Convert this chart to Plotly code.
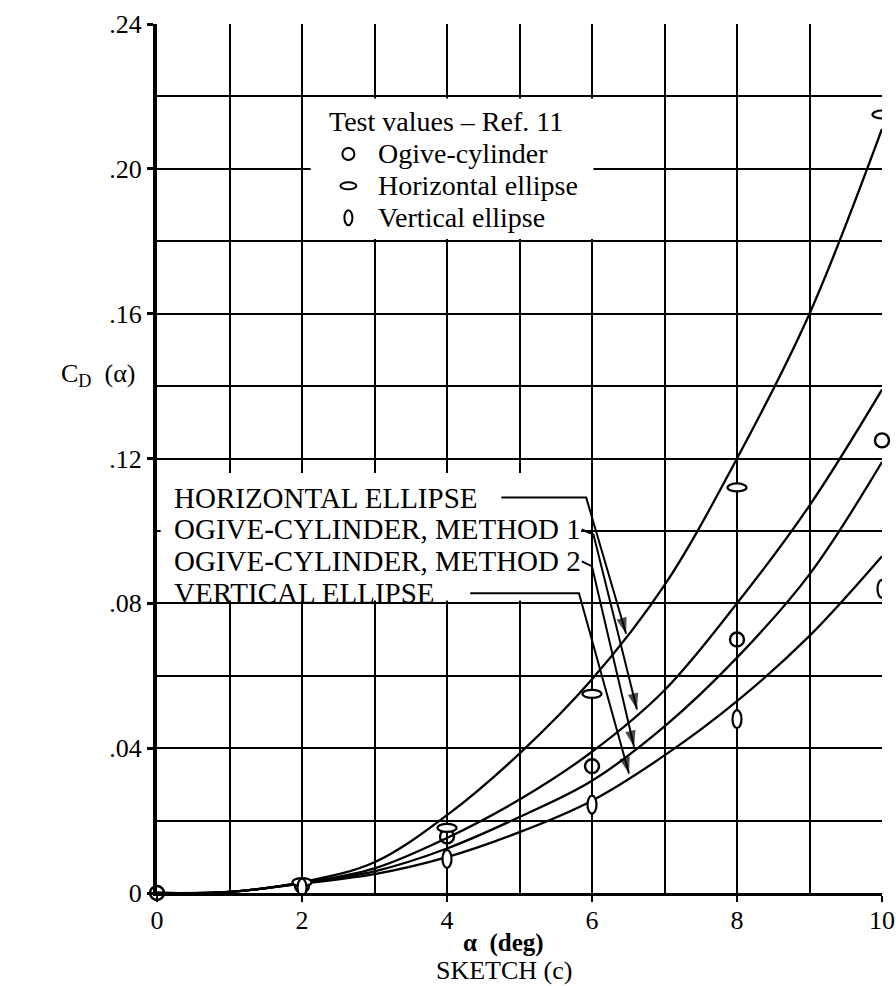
import plotly.graph_objects as go

# ---------------- data ----------------
alpha_deg = [0, 1, 2, 3, 4, 5, 6, 7, 8, 9, 10]
cd_horizontal_ellipse = [0, 0.0003, 0.0030, 0.0085, 0.0215, 0.0385, 0.059, 0.085, 0.120, 0.160, 0.211]
cd_ogive_method1 = [0, 0.0003, 0.0028, 0.0068, 0.0152, 0.0258, 0.039, 0.056, 0.080, 0.107, 0.139]
cd_ogive_method2 = [0, 0.0003, 0.0027, 0.0060, 0.0123, 0.0210, 0.031, 0.046, 0.065, 0.088, 0.119]
cd_vertical_ellipse = [0, 0.0003, 0.0026, 0.0052, 0.0099, 0.0168, 0.0255, 0.038, 0.053, 0.071, 0.093]

test_alpha_ogive = [0, 2, 4, 6, 8, 10]
test_cd_ogive = [0, 0.002, 0.0156, 0.035, 0.070, 0.125]
test_alpha_hell = [2, 4, 6, 8, 10]
test_cd_hell = [0.003, 0.018, 0.055, 0.112, 0.215]
test_alpha_vell = [2, 4, 6, 8, 10]
test_cd_vell = [0.0015, 0.0094, 0.0244, 0.048, 0.084]

x_tick_vals = [0, 2, 4, 6, 8, 10]
x_tick_text = ["0", "2", "4", "6", "8", "10"]
y_tick_vals = [0, 0.04, 0.08, 0.12, 0.16, 0.20, 0.24]
y_tick_text = ["0", ".04", ".08", ".12", ".16", ".20", ".24"]

curve_labels = ["HORIZONTAL ELLIPSE", "OGIVE-CYLINDER, METHOD 1",
                "OGIVE-CYLINDER, METHOD 2", "VERTICAL ELLIPSE"]
legend_title = "Test values \u2013 Ref. 11"
legend_labels = ["Ogive-cylinder", "Horizontal ellipse", "Vertical ellipse"]

FONT = "Liberation Serif"
BLACK = "black"

fig = go.Figure()

curves = [cd_horizontal_ellipse, cd_ogive_method1, cd_ogive_method2, cd_vertical_ellipse]
for name, ys in zip(curve_labels, curves):
    fig.add_trace(go.Scatter(x=alpha_deg, y=ys, mode="lines", name=name,
                             line=dict(color=BLACK, width=2.3, shape="spline", smoothing=1.0),
                             showlegend=False, cliponaxis=False))

fig.add_trace(go.Scatter(x=test_alpha_ogive, y=test_cd_ogive, mode="markers",
                         name="Ogive-cylinder", showlegend=False, cliponaxis=False,
                         marker=dict(symbol="circle-open", size=14, color=BLACK,
                                     line=dict(width=2.4, color=BLACK))))

shapes = []


def ellipse(xv, yv, w, h, lw=2.2):
    return dict(type="circle", xref="x", yref="y", xsizemode="pixel", ysizemode="pixel",
                xanchor=xv, yanchor=yv, x0=-w / 2, x1=w / 2, y0=-h / 2, y1=h / 2,
                line=dict(color=BLACK, width=lw), fillcolor="white", layer="above")


for xv, yv in zip(test_alpha_hell, test_cd_hell):
    shapes.append(ellipse(xv, yv, 19, 8))
for xv, yv in zip(test_alpha_vell, test_cd_vell):
    shapes.append(ellipse(xv, yv, 9, 18))

# white boxes (legend and curve-label block)
shapes.append(dict(type="rect", xref="x", yref="y", x0=2.12, x1=6.02, y0=0.1806, y1=0.2194,
                   fillcolor="white", line=dict(width=0), layer="between"))
shapes.append(dict(type="rect", xref="x", yref="y", x0=0.05, x1=5.85, y0=0.0808, y1=0.1160,
                   fillcolor="white", line=dict(width=0), layer="between"))

# legend symbols
leg_rows_y = [0.2041, 0.1953, 0.1865]
leg_sym_x = 2.64
shapes.append(ellipse(leg_sym_x, leg_rows_y[0], 12, 12, 2.0))
shapes.append(ellipse(leg_sym_x, leg_rows_y[1], 16, 7, 2.0))
shapes.append(ellipse(leg_sym_x, leg_rows_y[2], 8, 15, 2.0))

annotations = []
annotations.append(dict(x=2.34, y=0.2132, xref="x", yref="y", text=legend_title,
                        showarrow=False, xanchor="left", yanchor="middle",
                        font=dict(family=FONT, size=28, color=BLACK)))
for lab, yv in zip(legend_labels, leg_rows_y):
    annotations.append(dict(x=3.02, y=yv, xref="x", yref="y", text=lab,
                            showarrow=False, xanchor="left", yanchor="middle",
                            font=dict(family=FONT, size=28, color=BLACK)))

# curve labels with leader lines ending in arrowheads
label_rows_y = [0.1092, 0.1004, 0.0916, 0.0828]
leader_start_x = [4.75, 5.86, 5.86, 4.32]
leader_bend = [(5.92, 0.1092), (6.02, 0.0990), (6.00, 0.0902), (5.82, 0.0828)]
leader_tip = [(6.47, 0.0716), (6.62, 0.0507), (6.58, 0.0404), (6.51, 0.0330)]

for lab, yv, sx, (bx, by), (tx, ty) in zip(curve_labels, label_rows_y, leader_start_x,
                                           leader_bend, leader_tip):
    annotations.append(dict(x=0.2, y=yv, xref="x", yref="y", text=lab, showarrow=False,
                            xanchor="left", yanchor="middle",
                            font=dict(family=FONT, size=29, color=BLACK)))
    fig.add_trace(go.Scatter(x=[sx, bx, tx], y=[yv, by, ty], mode="lines+markers",
                             showlegend=False, hoverinfo="skip", cliponaxis=False,
                             line=dict(color=BLACK, width=2),
                             marker=dict(symbol=["circle", "circle", "arrow"],
                                         size=[0, 0, 17], angleref="previous",
                                         color=BLACK, line=dict(width=0))))

# axis titles
annotations.append(dict(x=-0.082, y=0.596, xref="paper", yref="paper",
                        xanchor="center", yanchor="middle",
                        text="C<sub>D</sub>  (\u03b1)", showarrow=False,
                        font=dict(family=FONT, size=26, color=BLACK)))
annotations.append(dict(x=0.478, y=-0.057, xref="paper", yref="paper",
                        xanchor="center", yanchor="middle",
                        text="<b>\u03b1  (deg)</b>", showarrow=False,
                        font=dict(family=FONT, size=25, color=BLACK)))
annotations.append(dict(x=0.478, y=-0.089, xref="paper", yref="paper",
                        xanchor="center", yanchor="middle",
                        text="SKETCH (c)", showarrow=False,
                        font=dict(family=FONT, size=26, color=BLACK)))

fig.update_layout(
    width=896, height=986,
    margin=dict(l=157, r=14, t=24, b=93, autoexpand=False),
    paper_bgcolor="white", plot_bgcolor="white",
    shapes=shapes, annotations=annotations,
    font=dict(family=FONT, size=26, color=BLACK),
    showlegend=False,
)

fig.update_xaxes(range=[0, 10], tickvals=x_tick_vals, ticktext=x_tick_text,
                 showgrid=True, gridcolor=BLACK, gridwidth=2,
                 minor=dict(dtick=1, showgrid=True, gridcolor=BLACK, gridwidth=2),
                 showline=True, linecolor=BLACK, linewidth=3, mirror=False,
                 ticks="outside", ticklen=6, tickwidth=2, tickcolor=BLACK,
                 ticklabeloverflow="allow", ticklabelstandoff=-4, automargin=False,
                 zeroline=False, tickfont=dict(family=FONT, size=26, color=BLACK))
fig.update_yaxes(range=[0, 0.24], tickvals=y_tick_vals, ticktext=y_tick_text,
                 showgrid=True, gridcolor=BLACK, gridwidth=2,
                 minor=dict(dtick=0.02, showgrid=True, gridcolor=BLACK, gridwidth=2),
                 showline=True, linecolor=BLACK, linewidth=4, mirror=False,
                 ticks="outside", ticklen=6, tickwidth=3, tickcolor=BLACK,
                 automargin=False,
                 zeroline=False, tickfont=dict(family=FONT, size=26, color=BLACK))

fig.write_html("out.html", config={"displayModeBar": False},
               post_script="document.body.style.margin='0';")
